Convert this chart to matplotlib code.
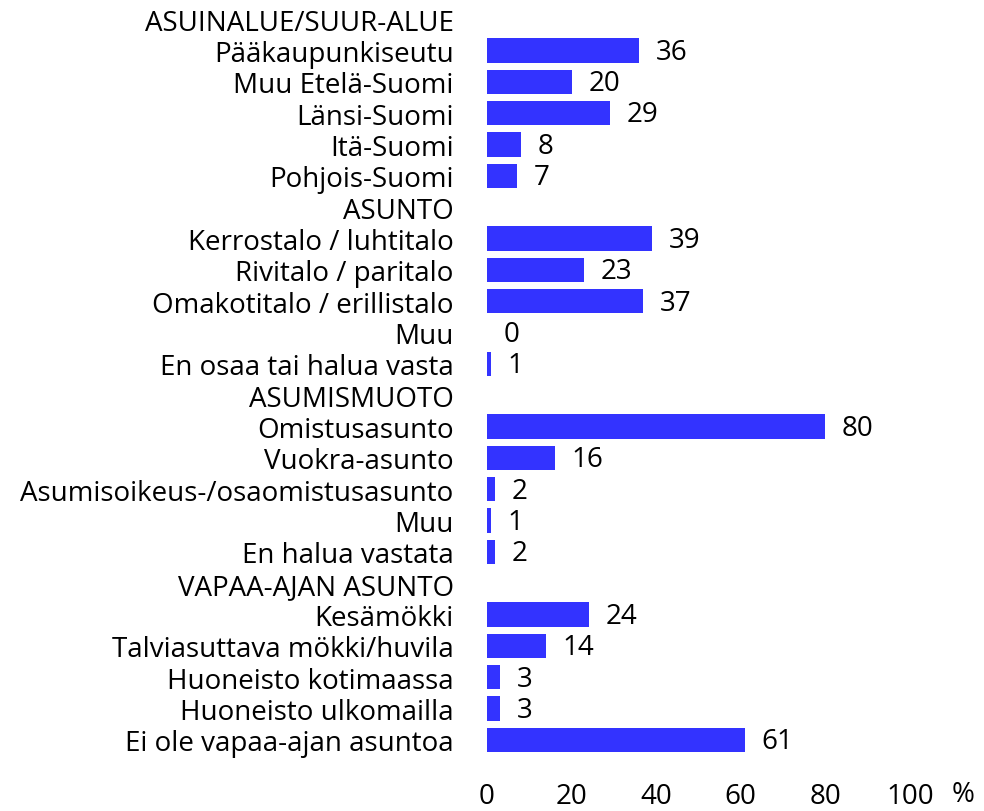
import matplotlib

matplotlib.use("Agg")

import matplotlib.pyplot as plt

plt.rcParams["font.family"] = ["Open Sans", "DejaVu Sans"]

# rows in display order; headers carry no value
labels = [
    "ASUINALUE/SUUR-ALUE",
    "Pääkaupunkiseutu",
    "Muu Etelä-Suomi",
    "Länsi-Suomi",
    "Itä-Suomi",
    "Pohjois-Suomi",
    "ASUNTO",
    "Kerrostalo / luhtitalo",
    "Rivitalo / paritalo",
    "Omakotitalo / erillistalo",
    "Muu",
    "En osaa tai halua vasta",
    "ASUMISMUOTO",
    "Omistusasunto",
    "Vuokra-asunto",
    "Asumisoikeus-/osaomistusasunto",
    "Muu",
    "En halua vastata",
    "VAPAA-AJAN ASUNTO",
    "Kesämökki",
    "Talviasuttava mökki/huvila",
    "Huoneisto kotimaassa",
    "Huoneisto ulkomailla",
    "Ei ole vapaa-ajan asuntoa",
]
values = [
    None, 36, 20, 29, 8, 7,
    None, 39, 23, 37, 0, 1,
    None, 80, 16, 2, 1, 2,
    None, 24, 14, 3, 3, 61,
]
x_ticks = [0, 20, 40, 60, 80, 100]

BAR_COLOR = "#3333FF"
FS = 20

fig = plt.figure(figsize=(9.84, 8.12), dpi=100)
ax = fig.add_axes([0.4949, 0.0493, 0.4299, 0.9457])

for i, v in enumerate(values):
    if v is None:
        continue
    ax.barh(i, v, height=0.78, color=BAR_COLOR, edgecolor="none")
    ax.annotate(
        f"{v}",
        xy=(v, i),
        xytext=(12, -1),
        textcoords="offset points",
        ha="left",
        va="center",
        fontsize=FS,
        color="black",
    )

ax.set_xlim(0, 100)
ax.set_ylim(23.99, -0.51)
ax.set_yticks(range(len(labels)))
ax.set_yticklabels(labels, fontsize=FS)
ax.set_xticks(x_ticks)
ax.set_xticklabels([str(t) for t in x_ticks], fontsize=FS)
ax.tick_params(axis="y", length=0, pad=24)
ax.tick_params(axis="x", length=0, pad=8)
for spine in ax.spines.values():
    spine.set_visible(False)

fig.text(963 / 984, 1 - 795 / 812, "%", fontsize=FS, ha="center", va="center")

fig.savefig("out.png", dpi=100)
